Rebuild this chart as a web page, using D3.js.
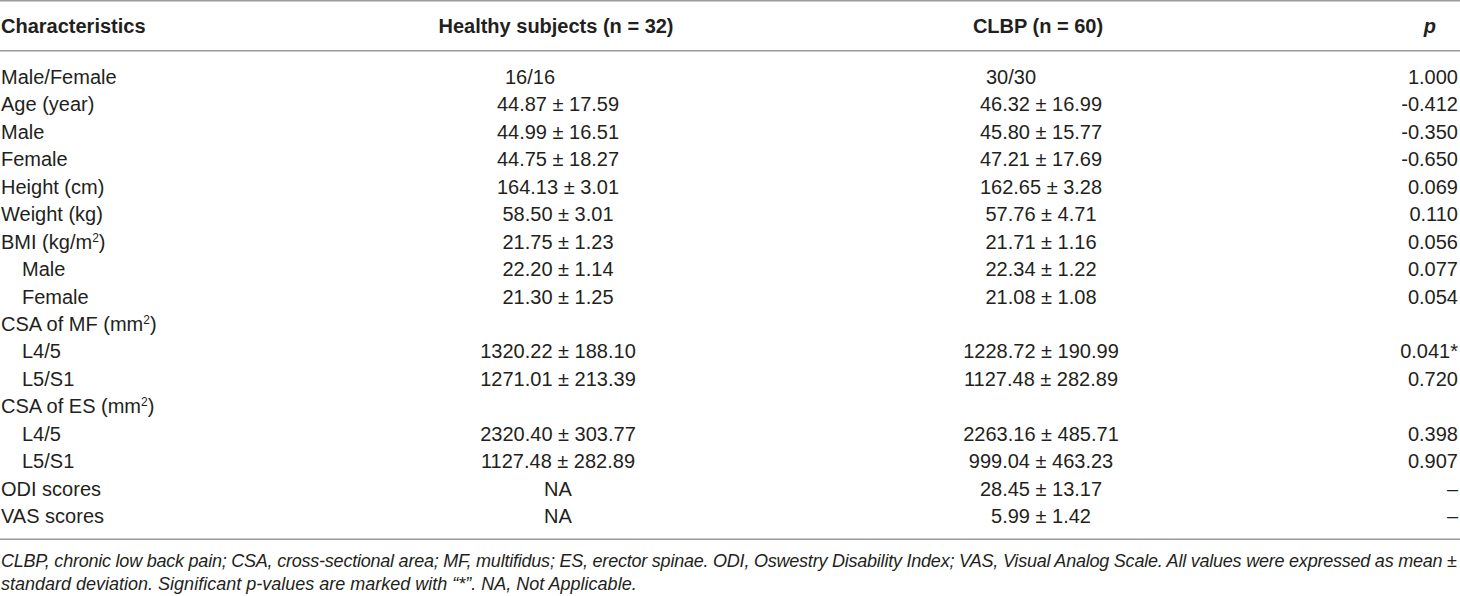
<!DOCTYPE html>
<html>
    <head>
        <title>Characteristics table</title>
        <meta charset="UTF-8">
        <style>
            body {margin:0; background:#fff;}
            text {font-family: "Liberation Sans", Arial, sans-serif; fill:#231f20; font-size:20px;}
            .head text {font-weight:bold;}
            .rule {stroke:#9b9b9b; stroke-width:1.5px;}
            .note {font-style:italic; font-size:18px;}
        </style>
        <script src="https://cdnjs.cloudflare.com/ajax/libs/d3/7.8.5/d3.min.js"></script>
    </head>
    <body>
        <svg width="1460" height="596"></svg>

        <script>
            //... table contents
            var headers = ["Characteristics", "Healthy subjects (n = 32)", "CLBP (n = 60)", "p"];
            var characteristics = ["Male/Female", "Age (year)", "Male", "Female", "Height (cm)", "Weight (kg)",
                "BMI (kg/m^2)", "Male", "Female", "CSA of MF (mm^2)", "L4/5", "L5/S1",
                "CSA of ES (mm^2)", "L4/5", "L5/S1", "ODI scores", "VAS scores"];
            var indent = [0, 0, 0, 0, 0, 0, 0, 1, 1, 0, 1, 1, 0, 1, 1, 0, 0];
            var healthy = ["16/16", "44.87 ± 17.59", "44.99 ± 16.51", "44.75 ± 18.27", "164.13 ± 3.01",
                "58.50 ± 3.01", "21.75 ± 1.23", "22.20 ± 1.14", "21.30 ± 1.25", "",
                "1320.22 ± 188.10", "1271.01 ± 213.39", "", "2320.40 ± 303.77", "1127.48 ± 282.89", "NA", "NA"];
            var clbp = ["30/30", "46.32 ± 16.99", "45.80 ± 15.77", "47.21 ± 17.69", "162.65 ± 3.28",
                "57.76 ± 4.71", "21.71 ± 1.16", "22.34 ± 1.22", "21.08 ± 1.08", "",
                "1228.72 ± 190.99", "1127.48 ± 282.89", "", "2263.16 ± 485.71", "999.04 ± 463.23",
                "28.45 ± 13.17", "5.99 ± 1.42"];
            var pValues = ["1.000", "-0.412", "-0.350", "-0.650", "0.069", "0.110", "0.056", "0.077", "0.054", "",
                "0.041*", "0.720", "", "0.398", "0.907", "–", "–"];
            var notes = ["CLBP, chronic low back pain; CSA, cross-sectional area; MF, multifidus; ES, erector spinae. ODI, Oswestry Disability Index; VAS, Visual Analog Scale. All values were expressed as mean ±",
                "standard deviation. Significant p-values are marked with “*”. NA, Not Applicable."];

            var svg = d3.select("svg"),
                width = +svg.attr("width");

            // row centres
            var y = d3.scalePoint().domain(d3.range(characteristics.length)).range([77, 516]);
            var base = 7;   // centre -> baseline
            var colHealthy = 558, colClbp = 1041, colP = 1458;

            //... rules
            svg.selectAll("line.rule")
                .data([0.75, 50.8, 539.3])
                .enter().append("line")
                .attr("class", "rule")
                .attr("x1", 0).attr("x2", width)
                .attr("y1", d => d).attr("y2", d => d);

            //... header
            var h = svg.append("g").attr("class", "head");
            h.append("text").attr("x", 1).attr("y", 33).text(headers[0]);
            h.append("text").attr("x", 556).attr("y", 33).attr("text-anchor", "middle").text(headers[1]);
            h.append("text").attr("x", 1038).attr("y", 33).attr("text-anchor", "middle").text(headers[2]);
            h.append("text").attr("x", 1436).attr("y", 33).attr("text-anchor", "end")
                .style("font-style", "italic").text(headers[3]);

            //... first column, with superscripts written as ^
            var rows = svg.append("g").selectAll("g")
                .data(characteristics)
                .enter().append("g")
                .attr("transform", (d, i) => "translate(0," + (y(i) + base) + ")");

            rows.append("text")
                .attr("x", (d, i) => 1 + indent[i] * 21)
                .each(function(d)
                {
                    var parts = d.split("^"), t = d3.select(this);
                    t.append("tspan").text(parts[0]);
                    if (parts.length > 1)
                    {
                        t.append("tspan").attr("dy", -7).style("font-size", "12px").text(parts[1].charAt(0));
                        t.append("tspan").attr("dy", 7).text(parts[1].slice(1));
                    }
                });

            // ratio row sits left of the centred values
            rows.append("text")
                .attr("x", (d, i) => i === 0 ? colHealthy - 53 : colHealthy)
                .attr("text-anchor", (d, i) => i === 0 ? "start" : "middle")
                .text((d, i) => healthy[i]);
            rows.append("text")
                .attr("x", (d, i) => i === 0 ? colClbp - 55 : colClbp)
                .attr("text-anchor", (d, i) => i === 0 ? "start" : "middle")
                .text((d, i) => clbp[i]);
            rows.append("text")
                .attr("x", colP)
                .attr("text-anchor", "end")
                .text((d, i) => pValues[i]);

            //... footnote, first line justified to the full width
            svg.selectAll("text.note")
                .data(notes)
                .enter().append("text")
                .attr("class", "note")
                .attr("x", 1)
                .attr("y", (d, i) => 567 + i * 23)
                .attr("textLength", (d, i) => i === 0 ? 1456 : null)
                .attr("lengthAdjust", "spacing")
                .text(d => d);
        </script>
    </body>
</html>
